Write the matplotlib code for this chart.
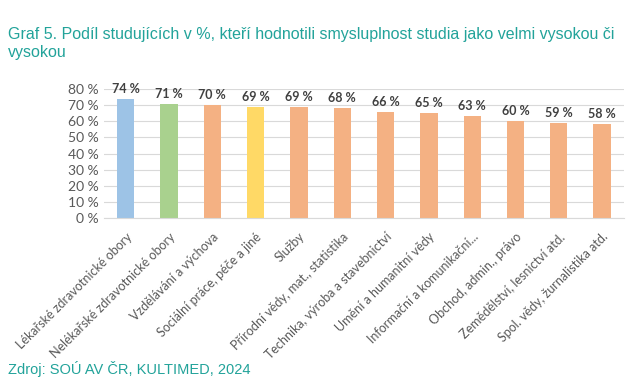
import matplotlib.pyplot as plt
from matplotlib import font_manager

# ==== data ====
categories = [
    "Lékařské zdravotnické obory",
    "Nelékařské zdravotnické obory",
    "Vzdělávání a výchova",
    "Sociální práce, péče a jiné",
    "Služby",
    "Přírodní vědy, mat., statistika",
    "Technika, výroba a stavebnictví",
    "Umění a humanitní vědy",
    "Informační a komunikační...",
    "Obchod, admin., právo",
    "Zemědělství, lesnictví atd.",
    "Spol. vědy, žurnalistika atd.",
]
values = [74, 71, 70, 69, 69, 68, 66, 65, 63, 60, 59, 58]
bar_colors = ["#9DC3E6", "#A9D18E", "#F4B183", "#FFD966"] + ["#F4B183"] * 8
yticks = [0, 10, 20, 30, 40, 50, 60, 70, 80]

teal = "#22A39A"
names = {f.name for f in font_manager.fontManager.ttflist}
title_font = "Liberation Sans Narrow" if "Liberation Sans Narrow" in names else "Liberation Sans"
body_font = "Lato"

fig = plt.figure(figsize=(6.38, 3.92), dpi=100)
ax = fig.add_axes([0.163, 0.4439, 0.8147, 0.329])

x = range(len(categories))
ax.bar(x, values, width=0.4, color=bar_colors, zorder=2)
for i, v in enumerate(values):
    ax.text(i, v + 2.5, f"{v} %", ha="center", va="bottom", fontsize=9,
            fontweight="bold", color="#404040", family=body_font)

ax.set_xlim(-0.5, len(categories) - 0.5)
ax.set_ylim(0, 80)
ax.set_yticks(yticks)
ax.set_yticklabels([f"{t} %" for t in yticks], fontsize=10, color="#595959",
                   family=body_font)
ax.set_xticks(list(x))
ax.set_xticklabels(categories, rotation=45, ha="right", rotation_mode="anchor",
                   fontsize=9, color="#595959", family=body_font)
ax.tick_params(axis="y", length=0, pad=4)
ax.tick_params(axis="x", length=0, pad=9)
ax.grid(axis="y", color="#D9D9D9", linewidth=0.8, zorder=0)
for s in ["top", "right", "left"]:
    ax.spines[s].set_visible(False)
ax.spines["bottom"].set_color("#D9D9D9")

fig.text(0.013, 0.93, "Graf 5. Podíl studujících v %, kteří hodnotili smysluplnost studia jako velmi vysokou či\nvysokou",
         fontsize=11.5, color=teal, family=title_font, va="top", linespacing=1.25)
fig.text(0.013, 0.058, "Zdroj: SOÚ AV ČR, KULTIMED, 2024", fontsize=10.5,
         color=teal, family=title_font, va="center")

fig.savefig("out.png", dpi=100)
